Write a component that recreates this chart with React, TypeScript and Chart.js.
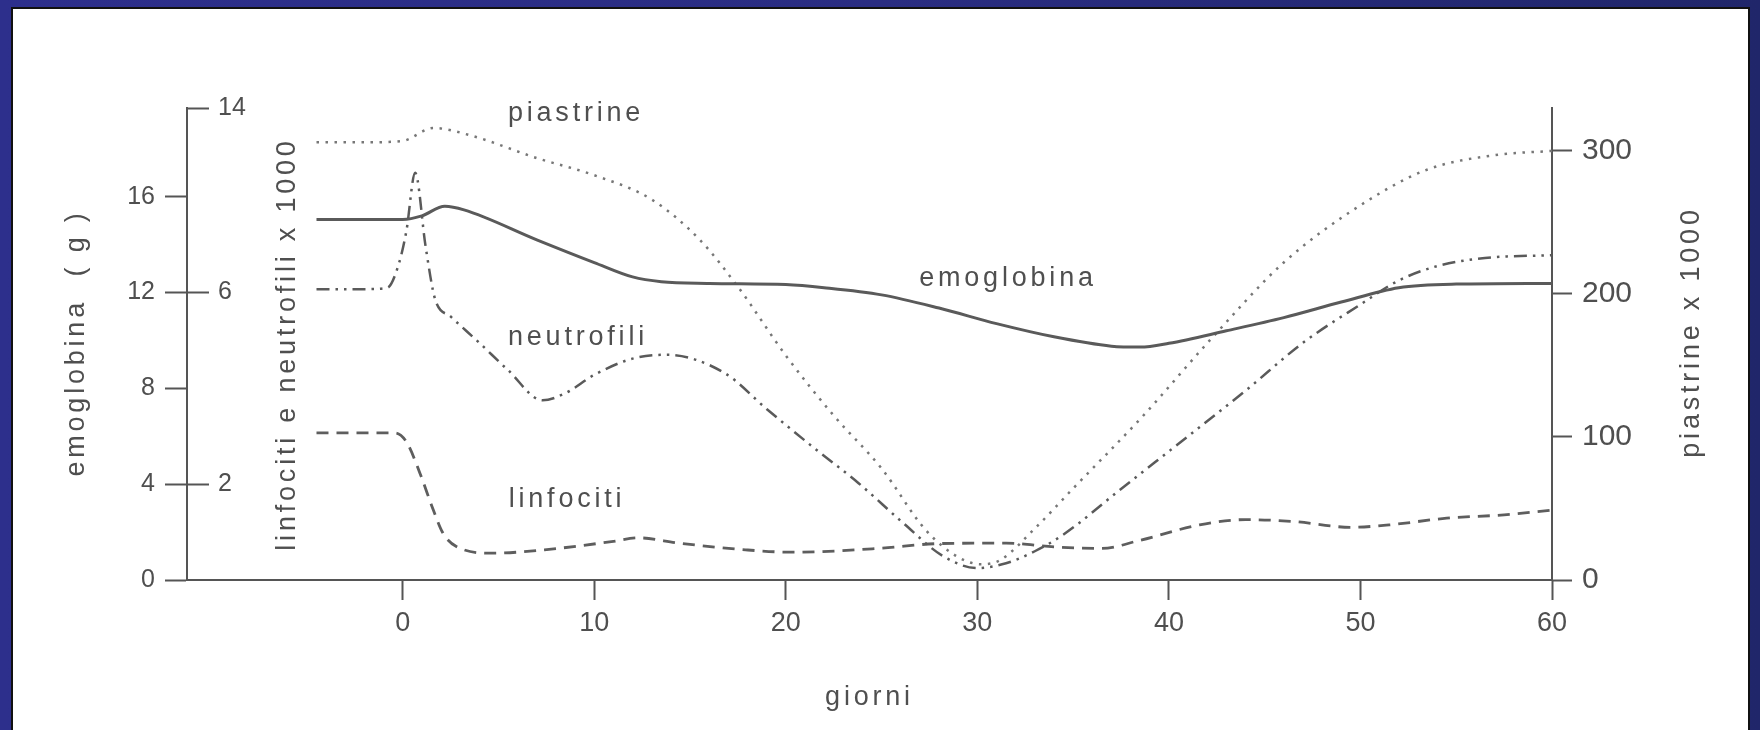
import React, { useEffect, useRef } from "react";
import { Chart, registerables } from "chart.js";

Chart.register(...registerables);

// ---------- data ----------
const emoDays = [-4.5, 0, 1, 2.2, 3.2, 7, 10, 12, 13.5, 16, 20, 22, 25, 28, 31, 34, 37, 38.5, 40, 43, 46, 49, 52, 55, 60];
const emoValues = [15.05, 15.05, 15.2, 15.6, 15.45, 14.2, 13.25, 12.65, 12.45, 12.38, 12.33, 12.2, 11.9, 11.35, 10.7, 10.15, 9.76, 9.72, 9.88, 10.4, 10.95, 11.6, 12.2, 12.35, 12.38];

const pltDays = [-4.5, -2, 0, 1.6, 3.5, 7, 10, 13, 15.5, 17.5, 20, 22.5, 25, 27.3, 29, 30.2, 31.2, 33, 35, 38.6, 42.3, 46, 50, 53.5, 57, 60];
const pltValues = [306, 306, 307, 316, 311, 295, 283, 266, 238, 205, 157, 115, 78, 35, 16, 11, 14, 36, 64, 114, 170, 222, 262, 287, 297, 300];

const neuDays = [-4.5, -2, -0.8, -0.2, 0.2, 0.65, 1.2, 1.7, 2.5, 4, 5.5, 7.3, 8.5, 10, 12, 13.8, 16.8, 19, 21.4, 23.8, 26.1, 28.2, 30, 31.5, 33, 34.5, 37.5, 41, 44, 47, 50, 52, 54, 56.5, 60];
const neuValues = [6.07, 6.07, 6.1, 6.6, 7.3, 8.5, 6.95, 5.85, 5.5, 4.95, 4.38, 3.75, 3.9, 4.28, 4.62, 4.7, 4.32, 3.57, 2.78, 2.02, 1.2, 0.5, 0.25, 0.35, 0.6, 0.95, 1.9, 3.0, 3.95, 4.95, 5.75, 6.25, 6.55, 6.72, 6.78];

const linDays = [-4.5, -0.4, 0.2, 0.9, 1.6, 2.1, 2.8, 4.7, 7.4, 10.9, 12.3, 14.4, 17.9, 20.3, 24.9, 28, 31.5, 34, 36.5, 38.5, 41.6, 44, 46.5, 49.5, 51.5, 54.5, 57.5, 60];
const linValues = [3.07, 3.07, 2.88, 2.23, 1.46, 0.98, 0.7, 0.56, 0.63, 0.8, 0.88, 0.77, 0.63, 0.58, 0.66, 0.76, 0.77, 0.69, 0.66, 0.83, 1.15, 1.26, 1.22, 1.1, 1.15, 1.29, 1.36, 1.46];

// ---------- ticks ----------
const xTickValues = [0, 10, 20, 30, 40, 50, 60];
const emoTickValues = [0, 4, 8, 12, 16];
const lnTickValues = [2, 6];
const lnTopTickLabel = "14";
const pltTickValues = [0, 100, 200, 300];

// ---------- scale ranges ----------
const X_MIN = -11.26;
const X_MAX = 60;
const EMO_MAX = 19.7;
const LN_MAX = EMO_MAX / 2;
const PLT_MAX = 330;

// ---------- texts ----------
const seriesNames = ["emoglobina", "piastrine", "neutrofili", "linfociti"];
const xTitle = "giorni";
const emoTitle = "emoglobina  ( g )";
const lnTitle = "linfociti e neutrofili x 1000";
const pltTitle = "piastrine x 1000";

// label anchors (in data coordinates: day, emoglobina scale)
const labelAnchors = [
  { text: "piastrine", x: 9.05, y: 19.45 },
  { text: "neutrofili", x: 9.15, y: 10.14 },
  { text: "emoglobina", x: 31.6, y: 12.6 },
  { text: "linfociti", x: 8.58, y: 3.34 },
];

const TEXT = "#4f4f4f";
const AXIS = "#555555";
const WORD_FONT = '27px "Liberation Sans", Arial, sans-serif';

const toPts = (xs: number[], ys: number[]) => xs.map((x, i) => ({ x, y: ys[i] }));

const textPlugin = {
  id: "textPlugin",
  afterDraw(chart: any) {
    const { ctx, chartArea, scales } = chart;
    ctx.save();
    ctx.fillStyle = TEXT;
    ctx.font = WORD_FONT;
    try { (ctx as any).letterSpacing = "3.8px"; } catch (e) {}
    ctx.textAlign = "center";
    ctx.textBaseline = "middle";
    for (const a of labelAnchors) {
      ctx.fillText(a.text, scales.x.getPixelForValue(a.x), scales.y.getPixelForValue(a.y));
    }
    // x axis title
    ctx.fillText(xTitle, (chartArea.left + chartArea.right) / 2, chartArea.bottom + 118);
    const rot = (t: string, x: number, y: number) => {
      ctx.save();
      ctx.translate(x, y);
      ctx.rotate(-Math.PI / 2);
      ctx.fillText(t, 0, 0);
      ctx.restore();
    };
    const midY = (chartArea.top + chartArea.bottom) / 2;
    rot(emoTitle, chartArea.left - 110, midY - 1);
    rot(lnTitle, chartArea.left + 101, midY);
    rot(pltTitle, chartArea.right + 140, midY - 12);
    ctx.restore();
  },
};

export default function App() {
  const ref = useRef<HTMLCanvasElement>(null);

  useEffect(() => {
    const canvas = ref.current;
    if (!canvas) return;
    const chart = new Chart(canvas, {
      type: "line",
      data: {
        datasets: [
          {
            label: seriesNames[0],
            data: toPts(emoDays, emoValues),
            yAxisID: "y",
            borderColor: "#5a5a5a",
            borderWidth: 3,
            pointRadius: 0,
            cubicInterpolationMode: "monotone",
          },
          {
            label: seriesNames[1],
            data: toPts(pltDays, pltValues),
            yAxisID: "y3",
            borderColor: "#777777",
            borderWidth: 2.5,
            borderDash: [2.5, 6.5],
            pointRadius: 0,
            cubicInterpolationMode: "monotone",
          },
          {
            label: seriesNames[2],
            data: toPts(neuDays, neuValues),
            yAxisID: "y2",
            borderColor: "#5a5a5a",
            borderWidth: 2.5,
            borderDash: [13, 6, 2.5, 6, 2.5, 6],
            pointRadius: 0,
            cubicInterpolationMode: "monotone",
          },
          {
            label: seriesNames[3],
            data: toPts(linDays, linValues),
            yAxisID: "y2",
            borderColor: "#5e5e5e",
            borderWidth: 2.8,
            borderDash: [12, 8],
            pointRadius: 0,
            cubicInterpolationMode: "monotone",
          },
        ],
      },
      options: {
        responsive: false,
        animation: false,
        devicePixelRatio: 1,
        layout: { padding: { top: 108, left: 0, right: 0, bottom: 0 } },
        plugins: {
          legend: { display: false },
          tooltip: { enabled: false },
        },
        scales: {
          x: {
            type: "linear",
            position: "bottom",
            min: X_MIN,
            max: X_MAX,
            afterBuildTicks: (s: any) => {
              s.ticks = xTickValues.map((v) => ({ value: v }));
            },
            afterFit: (s: any) => {
              s.height = 150;
            },
            grid: { drawOnChartArea: false, drawTicks: true, tickLength: 20, tickWidth: 2, tickColor: AXIS },
            border: { display: true, color: AXIS, width: 2 },
            ticks: {
              color: TEXT,
              padding: 7,
              maxRotation: 0,
              autoSkip: false,
              font: { family: '"Liberation Sans", Arial, sans-serif', size: 27 },
              callback: (v: any) => String(v),
            },
          },
          y: {
            type: "linear",
            position: "left",
            weight: 1,
            min: 0,
            max: EMO_MAX,
            afterBuildTicks: (s: any) => {
              s.ticks = emoTickValues.map((v) => ({ value: v }));
            },
            afterFit: (s: any) => {
              s.width = 187;
            },
            grid: { drawOnChartArea: false, drawTicks: true, tickLength: 22, tickWidth: 2, tickColor: AXIS },
            border: { display: true, color: AXIS, width: 2 },
            ticks: {
              color: TEXT,
              padding: 10,
              autoSkip: false,
              font: { family: '"Liberation Sans", Arial, sans-serif', size: 25 },
              callback: (v: any) => String(v),
            },
          },
          y2: {
            type: "linear",
            position: "left",
            weight: 0,
            min: 0,
            max: LN_MAX,
            afterBuildTicks: (s: any) => {
              s.ticks = [...lnTickValues, LN_MAX].map((v) => ({ value: v }));
            },
            afterFit: (s: any) => {
              s.width = 0;
            },
            grid: { drawOnChartArea: false, drawTicks: true, tickLength: -22, tickWidth: 2, tickColor: AXIS },
            border: { display: false },
            ticks: {
              color: TEXT,
              mirror: true,
              padding: 31,
              autoSkip: false,
              font: { family: '"Liberation Sans", Arial, sans-serif', size: 25 },
              callback: (v: any) => (v === LN_MAX ? lnTopTickLabel : String(v)),
            },
          },
          y3: {
            type: "linear",
            position: "right",
            min: 0,
            max: PLT_MAX,
            afterBuildTicks: (s: any) => {
              s.ticks = pltTickValues.map((v) => ({ value: v }));
            },
            afterFit: (s: any) => {
              s.width = 208;
            },
            grid: { drawOnChartArea: false, drawTicks: true, tickLength: 20, tickWidth: 2, tickColor: AXIS },
            border: { display: true, color: AXIS, width: 2 },
            ticks: {
              color: TEXT,
              padding: 10,
              autoSkip: false,
              font: { family: '"Liberation Sans", Arial, sans-serif', size: 30 },
              callback: (v: any) => String(v),
            },
          },
        },
      } as any,
      plugins: [textPlugin],
    });
    return () => chart.destroy();
  }, []);

  return (
    <div
      style={{
        position: "absolute",
        left: 0,
        top: 0,
        width: 1760,
        height: 730,
        overflow: "hidden",
        background: "linear-gradient(90deg, #2d2f8c 0%, #2a2d82 50%, #20266a 100%)",
      }}
    >
      <div
        style={{
          position: "absolute",
          left: 11,
          top: 7,
          right: 10,
          bottom: 0,
          background: "#ffffff",
          borderTop: "2px solid #111",
          borderLeft: "2px solid #111",
          borderRight: "2px solid #111",
        }}
      />
      <canvas ref={ref} width={1760} height={730} style={{ position: "absolute", left: 0, top: 0, display: "block" }} />
    </div>
  );
}
